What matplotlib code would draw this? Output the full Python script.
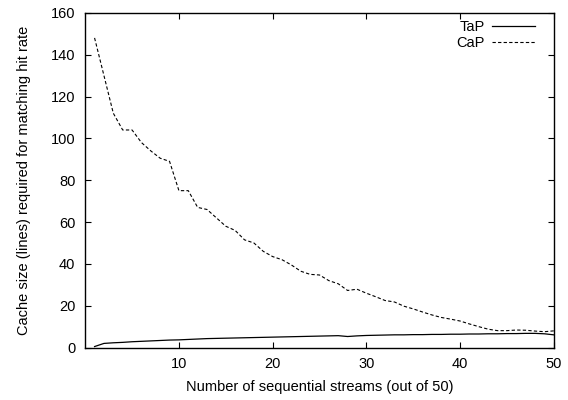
import matplotlib
matplotlib.use("Agg")
import matplotlib.pyplot as plt

plt.rcParams["font.family"] = ["Liberation Sans", "DejaVu Sans"]
plt.rcParams["font.size"] = 10.5

# number of sequential streams
streams = list(range(1, 51))

# cache lines needed, per policy
tap = [0.5, 2.0, 2.3, 2.5, 2.8, 3.0, 3.2, 3.4, 3.6, 3.7,
       3.9, 4.1, 4.3, 4.4, 4.5, 4.6, 4.7, 4.8, 4.9, 5.0,
       5.1, 5.2, 5.3, 5.4, 5.5, 5.6, 5.7, 5.3, 5.6, 5.8,
       5.9, 6.0, 6.1, 6.1, 6.2, 6.2, 6.3, 6.3, 6.4, 6.4,
       6.5, 6.5, 6.6, 6.6, 6.7, 6.7, 6.8, 6.8, 6.6, 6.1]
cap = [148, 130, 112, 104, 104, 98, 94, 90.5, 89, 75,
       75, 67, 66, 62, 58, 56, 51.5, 50, 46, 43.5,
       42, 39.5, 36.5, 35, 34.7, 32, 30.5, 27.3, 27.9, 26,
       24.3, 22.5, 21.8, 19.8, 18.5, 17, 15.6, 14.4, 13.6, 12.7,
       11.3, 10, 8.8, 8.1, 8.1, 8.4, 8.3, 7.9, 7.6, 8.0]

xticks = [10, 20, 30, 40, 50]
yticks = [0, 20, 40, 60, 80, 100, 120, 140, 160]

fig = plt.figure(figsize=(5.68, 4.0), dpi=100)
ax = fig.add_axes([0.150, 0.131, 0.825, 0.837])

ax.plot(streams, tap, color="black", lw=0.9, label="TaP")
ax.plot(streams, cap, color="black", lw=0.8, linestyle=(0, (3, 2)), label="CaP")

ax.set_xlim(0, 50)
ax.set_ylim(0, 160)
ax.set_xticks(xticks)
ax.set_yticks(yticks)
ax.tick_params(direction="in", top=True, right=True, length=4, width=0.8, pad=7)
for s in ax.spines.values():
    s.set_linewidth(1.0)

ax.set_xlabel("Number of sequential streams (out of 50)", labelpad=6)
ax.set_ylabel("Cache size (lines) required for matching hit rate", labelpad=14)

ax.legend(loc="upper right", bbox_to_anchor=(0.9595, 0.978), frameon=False,
          markerfirst=False, handlelength=2.95, handletextpad=0.5,
          labelspacing=0.1, borderpad=0, borderaxespad=0, fontsize=10.5)

fig.savefig("out.png", dpi=100)
